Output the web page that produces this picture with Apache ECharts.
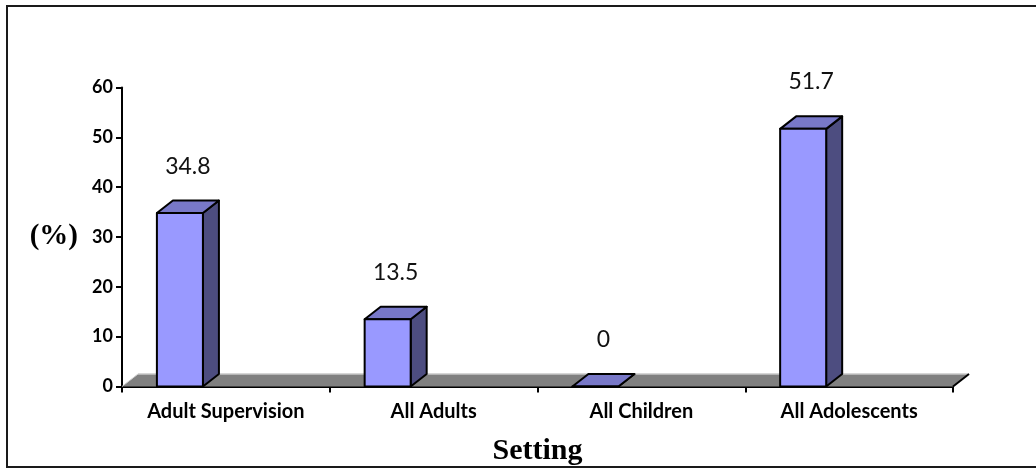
<!DOCTYPE html>
<html>
<head>
<meta charset="utf-8">
<script src="https://cdn.jsdelivr.net/npm/echarts@6/dist/echarts.min.js"></script>
<style>
  html, body { margin: 0; padding: 0; background: #fff; }
  #chart { width: 1036px; height: 468px; }
</style>
</head>
<body>
<div id="chart"></div>
<script>
// Share of each setting, in percent
const categories = ['Adult Supervision', 'All Adults', 'All Children', 'All Adolescents'];
const values = [34.8, 13.5, 0, 51.7];
const yMin = 0;
const yMax = 60;
const yStep = 10;

// Pseudo-3D depth of the columns and the floor
const DEPTH_X = 16;
const DEPTH_Y = -12.5;

const FRONT = '#9999FF';
const TOP = '#7878C8';
const SIDE = '#4D4D80';

function renderFloor(params, api) {
  const cs = params.coordSys;
  const x = cs.x, y = cs.y + cs.height, w = cs.width;
  return {
    type: 'group',
    children: [
      {
        type: 'polygon',
        shape: { points: [[x, y], [x + w, y], [x + w + DEPTH_X, y + DEPTH_Y], [x + DEPTH_X, y + DEPTH_Y]] },
        style: { fill: '#808080', stroke: null }
      },
      { type: 'line', shape: { x1: x, y1: y, x2: x + DEPTH_X, y2: y + DEPTH_Y }, style: { stroke: '#d0d0d0', lineWidth: 1 } },
      { type: 'line', shape: { x1: x + DEPTH_X, y1: y + DEPTH_Y, x2: x + w + DEPTH_X, y2: y + DEPTH_Y }, style: { stroke: '#c8c8c8', lineWidth: 1.5 } },
      { type: 'line', shape: { x1: x + w, y1: y, x2: x + w + DEPTH_X, y2: y + DEPTH_Y }, style: { stroke: '#000', lineWidth: 2 } }
    ]
  };
}

function renderBar(params, api) {
  const idx = api.value(0);
  const val = api.value(1);
  const base = api.coord([idx, 0]);
  const top = api.coord([idx, val]);
  const band = api.size([1, 0])[0];
  const w = band * 0.2215;
  const x0 = base[0] - band * 0.332;
  const by = base[1], ty = top[1];
  const edge = { stroke: '#000', lineWidth: 2, lineJoin: 'round' };
  return {
    type: 'group',
    children: [
      {
        type: 'polygon',
        shape: { points: [[x0 + w, ty], [x0 + w + DEPTH_X, ty + DEPTH_Y], [x0 + w + DEPTH_X, by + DEPTH_Y], [x0 + w, by]] },
        style: Object.assign({ fill: SIDE }, edge)
      },
      {
        type: 'polygon',
        shape: { points: [[x0, ty], [x0 + w, ty], [x0 + w + DEPTH_X, ty + DEPTH_Y], [x0 + DEPTH_X, ty + DEPTH_Y]] },
        style: Object.assign({ fill: TOP }, edge)
      },
      {
        type: 'rect',
        shape: { x: x0, y: ty, width: w, height: by - ty },
        style: Object.assign({ fill: FRONT }, edge)
      },
      {
        type: 'text',
        x: x0 + (w + DEPTH_X) / 2,
        y: ty - 47,
        style: {
          text: String(val),
          fill: '#111',
          font: '23px Lato, "Open Sans", sans-serif',
          align: 'center',
          verticalAlign: 'middle'
        }
      }
    ]
  };
}

const chart = echarts.init(document.getElementById('chart'), null, { renderer: 'canvas' });
chart.setOption({
  animation: false,
  backgroundColor: '#fff',
  graphic: [{
    type: 'rect',
    shape: { x: 7, y: 6, width: 1040, height: 461 },
    style: { fill: null, stroke: '#1a1a1a', lineWidth: 2 },
    z: 100
  }],
  grid: { left: 122, right: 83, top: 87.5, bottom: 81.5, containLabel: false, outerBoundsMode: 'none' },
  xAxis: {
    type: 'category',
    data: categories,
    boundaryGap: true,
    name: 'Setting',
    nameLocation: 'middle',
    nameGap: 50,
    nameTextStyle: { fontFamily: '"Liberation Serif", serif', fontWeight: 'bold', fontSize: 30, color: '#000' },
    axisLine: { lineStyle: { color: '#000', width: 2 } },
    axisTick: { show: true, length: 6, lineStyle: { color: '#000', width: 2 } },
    axisLabel: { margin: 15, color: '#000', fontFamily: 'Lato, "Open Sans", sans-serif', fontWeight: 'bold', fontSize: 20 },
    splitLine: { show: false }
  },
  yAxis: {
    type: 'value',
    min: yMin,
    max: yMax,
    interval: yStep,
    name: '(%)',
    nameLocation: 'middle',
    nameRotate: 0,
    nameGap: 44,
    nameTextStyle: { fontFamily: '"Liberation Serif", serif', fontWeight: 'bold', fontSize: 29, color: '#000' },
    axisLine: { show: true, lineStyle: { color: '#000', width: 2 } },
    axisTick: { show: true, length: 6, lineStyle: { color: '#000', width: 2 } },
    axisLabel: { margin: 9, color: '#000', fontFamily: 'Lato, "Open Sans", sans-serif', fontWeight: 'bold', fontSize: 18 },
    splitLine: { show: false }
  },
  series: [
    {
      type: 'custom',
      renderItem: renderFloor,
      data: [[0, 0]],
      z: 1,
      silent: true
    },
    {
      type: 'custom',
      renderItem: renderBar,
      data: values.map((v, i) => [i, v]),
      encode: { x: 0, y: 1 },
      z: 3
    }
  ]
});
</script>
</body>
</html>
